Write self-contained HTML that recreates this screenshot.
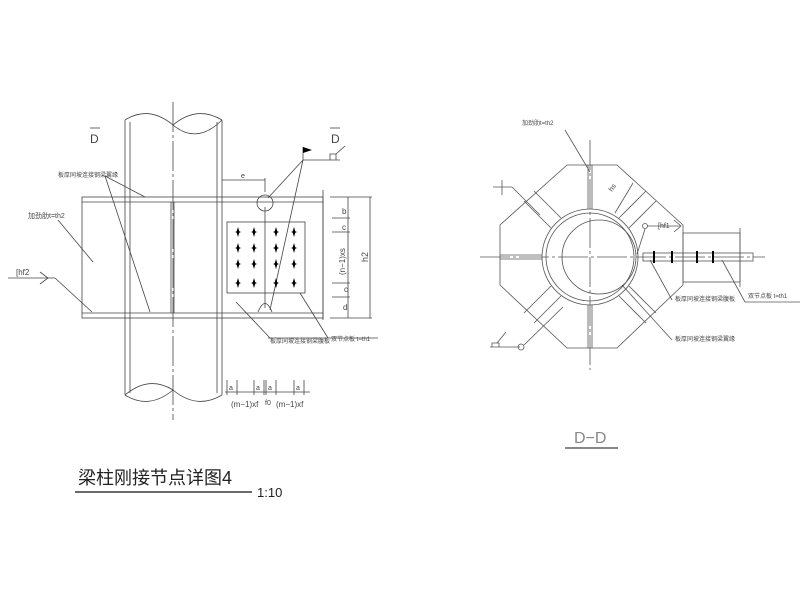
<!DOCTYPE html>
<html><head><meta charset="utf-8"><style>
html,body{margin:0;padding:0;background:#fff;width:800px;height:600px;overflow:hidden}
svg{display:block}
text{font-family:"Liberation Sans","Noto Sans CJK SC",sans-serif}
</style></head><body>
<svg width="800" height="600" viewBox="0 0 800 600" xmlns="http://www.w3.org/2000/svg">
<defs><g id="b"><path d="M0 -5 L1.5 0 L0 5 L-1.5 0Z"/><path d="M-3 0 L0 -1.2 L3 0 L0 1.2Z"/></g></defs>
<g stroke="#444" stroke-width="0.8" fill="none">
<line x1="125" y1="120" x2="125" y2="395"/>
<line x1="130" y1="122" x2="130" y2="393"/>
<line x1="217" y1="122" x2="217" y2="393"/>
<line x1="222" y1="120" x2="222" y2="395"/>
<path d="M125 120 Q149 105 173 125 Q197 105 222 120"/>
<path d="M173 125 Q197 145 222 120"/>
<path d="M125 395 Q149 375 173 390 Q197 410 222 395"/>
<path d="M125 395 Q149 410 173 390"/>
<line x1="173" y1="102" x2="173" y2="420" stroke-dasharray="30 3 3 3"/>
<rect x="82" y="197" width="241" height="121"/>
<line x1="82" y1="202" x2="323" y2="202"/>
<line x1="82" y1="313" x2="323" y2="313"/>
<line x1="171" y1="202" x2="171" y2="313"/><line x1="174" y1="202" x2="174" y2="313"/>
<line x1="323" y1="190" x2="323" y2="320"/>
<rect x="227" y="222" width="78" height="71"/>
<line x1="265" y1="207" x2="265" y2="308"/>
<circle cx="265" cy="203" r="8"/>
<path d="M258 312 Q265 295 272 312"/>
<line x1="330" y1="197" x2="372" y2="197"/>
<line x1="330" y1="318" x2="372" y2="318"/>
<line x1="348" y1="197" x2="348" y2="318"/>
<line x1="370" y1="197" x2="370" y2="318"/>
<line x1="332" y1="218" x2="350" y2="218"/>
<line x1="332" y1="232" x2="350" y2="232"/>
<line x1="332" y1="283" x2="350" y2="283"/>
<line x1="332" y1="297" x2="350" y2="297"/>
<line x1="222" y1="180" x2="265" y2="180"/>
<line x1="265" y1="178" x2="265" y2="192"/>
<line x1="105" y1="176" x2="145" y2="197"/>
<line x1="105" y1="176" x2="150" y2="312"/>
<line x1="58" y1="220" x2="93" y2="262"/>
<line x1="8" y1="278" x2="55" y2="278"/>
<path d="M40 272 L48 278 L40 284"/>
<line x1="55" y1="278" x2="92" y2="312"/>
<line x1="303" y1="160" x2="268" y2="198"/>
<line x1="303" y1="160" x2="270" y2="310"/>
<line x1="303" y1="147" x2="303" y2="160"/>
<line x1="303" y1="160" x2="340" y2="160"/>
<path d="M330 160 L330 154 L336 154 L336 160"/>
<line x1="336" y1="154" x2="345" y2="146"/>
<line x1="236" y1="302" x2="270" y2="338"/>
<line x1="300" y1="293" x2="328" y2="338"/>
<line x1="268" y1="338" x2="378" y2="338"/>
<line x1="90" y1="128" x2="100" y2="128"/>
<line x1="330" y1="128" x2="340" y2="128"/>
<line x1="225" y1="392" x2="310" y2="392"/>
<line x1="227" y1="380" x2="227" y2="395"/><line x1="237" y1="380" x2="237" y2="395"/>
<line x1="254" y1="380" x2="254" y2="395"/><line x1="264" y1="380" x2="264" y2="395"/>
<line x1="266" y1="380" x2="266" y2="395"/><line x1="276" y1="380" x2="276" y2="395"/>
<line x1="294" y1="380" x2="294" y2="395"/><line x1="304" y1="380" x2="304" y2="395"/>
</g>
<path d="M303 147 L312 150 L303 153Z" fill="#000"/>
<g fill="#000">
<use href="#b" x="238" y="232"/><use href="#b" x="254" y="232"/><use href="#b" x="276" y="232"/><use href="#b" x="294" y="232"/>
<use href="#b" x="238" y="248"/><use href="#b" x="254" y="248"/><use href="#b" x="276" y="248"/><use href="#b" x="294" y="248"/>
<use href="#b" x="238" y="264"/><use href="#b" x="254" y="264"/><use href="#b" x="276" y="264"/><use href="#b" x="294" y="264"/>
<use href="#b" x="238" y="283"/><use href="#b" x="254" y="283"/><use href="#b" x="276" y="283"/><use href="#b" x="294" y="283"/>
</g>
<g fill="#444" font-size="9">
<text x="90" y="143" font-size="12">D</text>
<text x="331" y="143" font-size="12">D</text>
<text x="58" y="177" font-size="6">板厚同坡连接钢梁翼缘</text>
<text x="28" y="218" font-size="7">加劲肋t=th2</text>
<text x="16" y="275" font-size="8">[hf2</text>
<text x="241" y="178" font-size="7">e</text>
<text x="270" y="343" font-size="6">板厚同坡连接钢梁腹板</text>
<text x="331" y="341" font-size="6">双节点板 t=th1</text>
<text x="342" y="214" font-size="8">b</text>
<text x="342" y="230" font-size="8">c</text>
<text x="345" y="275" font-size="8" transform="rotate(-90 345 275)">(n−1)xs</text>
<text x="344" y="292" font-size="8">c</text>
<text x="343" y="310" font-size="8">d</text>
<text x="368" y="262" font-size="9" transform="rotate(-90 368 262)">h2</text>
<text x="229" y="390" font-size="7">a</text><text x="256" y="390" font-size="7">a</text><text x="268" y="390" font-size="7">a</text><text x="296" y="390" font-size="7">a</text>
<text x="231" y="407" font-size="8">(m−1)xf</text>
<text x="265" y="405" font-size="7">f0</text>
<text x="276" y="407" font-size="8">(m−1)xf</text>
</g>
<g stroke="#555" stroke-width="0.8" fill="none">
<path d="M567 165 L617 165 L683 225 L683 285 L617 348 L567 348 L500 285 L500 225Z"/>
<circle cx="590" cy="257" r="48"/>
<circle cx="590" cy="257" r="44"/>
<circle cx="599" cy="257" r="37"/>
<line x1="590" y1="140" x2="590" y2="370" stroke-dasharray="30 3 3 3"/>
<line x1="480" y1="257" x2="765" y2="257" stroke-dasharray="30 3 3 3"/>
<line x1="500" y1="255" x2="542" y2="255"/><line x1="500" y1="259" x2="542" y2="259"/>
<line x1="588" y1="165" x2="588" y2="209"/><line x1="592" y1="165" x2="592" y2="209"/>
<line x1="588" y1="305" x2="588" y2="348"/><line x1="592" y1="305" x2="592" y2="348"/>
<line x1="629" y1="228" x2="656" y2="201"/><line x1="619" y1="218" x2="646" y2="191"/>
<line x1="551" y1="228" x2="524" y2="201"/><line x1="561" y1="218" x2="534" y2="191"/>
<line x1="561" y1="296" x2="534" y2="323"/><line x1="551" y1="286" x2="524" y2="313"/>
<line x1="619" y1="296" x2="646" y2="323"/><line x1="629" y1="286" x2="656" y2="313"/>
<rect x="643" y="253" width="110" height="8"/>
<rect x="683" y="233" width="57" height="49"/>
<line x1="740" y1="228" x2="740" y2="287"/>
<line x1="565" y1="130" x2="590" y2="172"/>
<line x1="493" y1="187" x2="512" y2="187"/><line x1="502" y1="180" x2="502" y2="195"/>
<line x1="512" y1="187" x2="540" y2="215"/>
<line x1="490" y1="347" x2="520" y2="347"/><path d="M492 347 L492 343 L499 343 L499 347"/><line x1="497" y1="343" x2="506" y2="332"/>
<circle cx="521" cy="347" r="3"/>
<line x1="524" y1="345" x2="563" y2="307"/>
<line x1="647" y1="226" x2="680" y2="226"/><path d="M674 220 L681 226 L674 232"/>
<circle cx="645" cy="226" r="2.5"/>
<line x1="645" y1="229" x2="637" y2="254"/>
<line x1="650" y1="260" x2="672" y2="300"/>
<line x1="622" y1="285" x2="672" y2="340"/>
<line x1="722" y1="260" x2="745" y2="302"/><line x1="745" y1="302" x2="800" y2="302"/>
<line x1="615" y1="213" x2="633" y2="183"/>
</g>
<g fill="#000">
<rect x="653" y="251" width="2" height="12"/><rect x="671" y="251" width="2" height="12"/><rect x="696" y="251" width="2" height="12"/><rect x="712" y="251" width="2" height="12"/>
</g>
<g fill="#444" font-size="7">
<text x="522" y="125" font-size="6">加劲肋t=th2</text>
<text x="658" y="228">[hf1</text>
<text x="612" y="192" transform="rotate(-55 612 192)">hs</text>
<text x="675" y="301" font-size="6">板厚同坡连接钢梁腹板</text>
<text x="675" y="341" font-size="6">板厚同坡连接钢梁翼缘</text>
<text x="748" y="298" font-size="6">双节点板 t=th1</text>
<text x="574" y="443" font-size="16" fill="#888">D−D</text>
</g>
<line x1="565" y1="448" x2="618" y2="448" stroke="#111" stroke-width="1"/>
<text x="78" y="484" font-size="18" fill="#222" font-family="'Noto Serif CJK SC','Liberation Serif',serif">梁柱刚接节点详图4</text>
<line x1="75" y1="492" x2="252" y2="492" stroke="#111" stroke-width="1.2"/>
<text x="257" y="497" font-size="13" fill="#222" font-family="'Liberation Serif',serif">1:10</text>
</svg>
</body></html>
